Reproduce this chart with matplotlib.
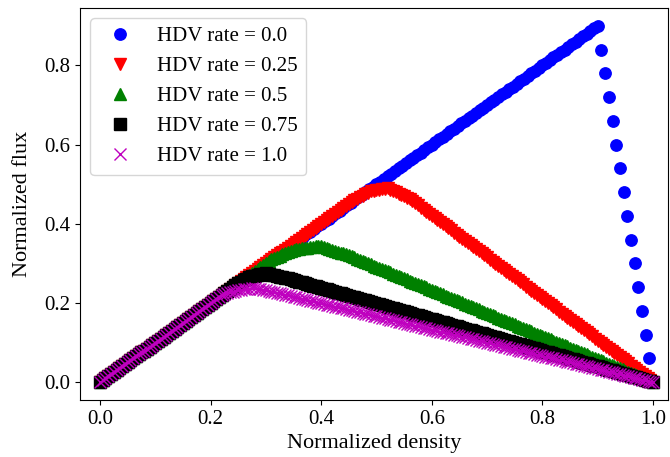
import numpy as np
import matplotlib
matplotlib.use('Agg')
import matplotlib.pyplot as plt

plt.rcParams['font.family'] = ['Liberation Serif', 'DejaVu Serif']
plt.rcParams['mathtext.fontset'] = 'stix'

# ----------------------------------------------------
# data
# ----------------------------------------------------

# densities where the flux was sampled
density_cav = np.linspace(0.0, 1.0, 151)     # pure CAV run (coarser grid)
density_mixed = np.linspace(0.0, 1.0, 201)   # runs with HDVs

hdv_rates = ['0.0', '0.25', '0.5', '0.75', '1.0']

# corner points of each fundamental diagram (density, flux)
blue_k = [0.0, 0.90, 1.0]
blue_q = [0.0, 0.90, 0.0]

red_k = [0.0, 0.46, 0.49, 0.52, 0.56, 1.0]
red_q = [0.0, 0.46, 0.482, 0.49, 0.462, 0.0]

green_k = [0.0, 0.31, 0.35, 0.40, 0.46, 1.0]
green_q = [0.0, 0.31, 0.335, 0.345, 0.315, 0.0]

black_k = [0.0, 0.25, 0.275, 0.30, 0.34, 1.0]
black_q = [0.0, 0.25, 0.268, 0.275, 0.262, 0.0]

magenta_k = [0.0, 0.22, 0.25, 0.28, 0.32, 1.0]
magenta_q = [0.0, 0.22, 0.233, 0.238, 0.226, 0.0]

series = [
    (density_cav, blue_k, blue_q, 'bo'),
    (density_mixed, red_k, red_q, 'rv'),
    (density_mixed, green_k, green_q, 'g^'),
    (density_mixed, black_k, black_q, 'ks'),
    (density_mixed, magenta_k, magenta_q, 'mx'),
]

# ---------------------------------------
# plot
# ---------------------------------------
my_dpi = 100
fig = plt.figure(figsize=(670/my_dpi, 457/my_dpi), dpi=my_dpi)
ax = fig.add_axes([80/670, 1 - 400/457, 588/670, 392/457])

for (dens, ks, qs, fmt), rate in zip(series, hdv_rates):
    flux = np.interp(dens, ks, qs)
    ax.plot(dens, flux, fmt, markersize=8.2, label='HDV rate = ' + rate)

ax.set_xlim(-0.036, 1.027)
ax.set_ylim(-0.045, 0.945)
ax.set_xticks([0.0, 0.2, 0.4, 0.6, 0.8, 1.0])
ax.set_yticks([0.0, 0.2, 0.4, 0.6, 0.8])
ax.tick_params(labelsize=15)
ax.set_xlabel('Normalized density', fontsize=16)
ax.set_ylabel('Normalized flux', fontsize=16, labelpad=9)
ax.legend(loc='upper left', fontsize=15)

fig.savefig('out.png', dpi=my_dpi)
